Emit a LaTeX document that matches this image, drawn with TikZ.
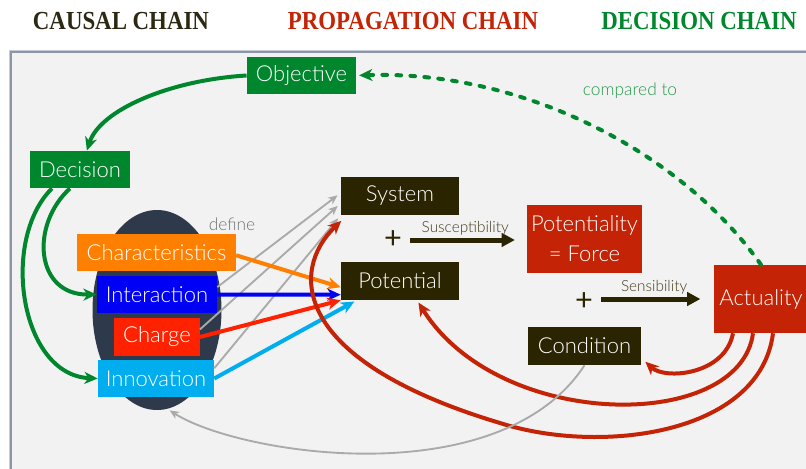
\documentclass[tikz,border=0pt]{standalone}
\usepackage{fontspec}
\setmainfont{Lato}
\newfontfamily\boxfont{Lato Light}
\newfontfamily\titlefont{Liberation Serif}[FakeStretch=0.88]
\usepackage{tikz}
\usetikzlibrary{arrows.meta}
\usetikzlibrary{shapes.geometric}

\definecolor{cgreen}{RGB}{0,135,45}
\definecolor{cred}{RGB}{196,35,6}
\definecolor{cdark}{RGB}{43,36,0}
\definecolor{ctitle}{RGB}{45,40,18}
\definecolor{corange}{RGB}{255,128,0}
\definecolor{cblue}{RGB}{0,0,245}
\definecolor{ccharge}{RGB}{255,34,0}
\definecolor{ccyan}{RGB}{0,174,239}
\definecolor{cgray}{RGB}{170,170,170}
\definecolor{cpanel}{RGB}{242,242,242}
\definecolor{cframe}{RGB}{140,150,168}
\definecolor{cellipse}{RGB}{46,58,76}

\tikzset{
  box/.style={text=white, inner sep=0pt, minimum height=28pt, font=\boxfont\fontsize{16.5}{18}\selectfont},
  titletext/.style={font=\titlefont\bfseries\fontsize{19.5}{22}\selectfont},
  thickarr/.style={line width=3pt, -{Stealth[length=10pt,width=9pt,inset=3pt]}},
  grayarr/.style={cgray, line width=1.4pt, -{Stealth[length=7pt,width=6pt,inset=2pt]}},
  plussign/.style={text=cdark, font=\fontsize{23}{23}\selectfont, inner sep=1pt},
  smalltext/.style={text=cdark!90, font=\boxfont\fontsize{11.5}{12}\selectfont, inner sep=1pt},
}

\begin{document}
\begin{tikzpicture}[x=0.75pt,y=0.75pt,yscale=-1]
\useasboundingbox (0,0) rectangle (806,468);

%Shape: Panel
\draw [draw=cframe!50, line width=3pt] (11,52) rectangle (830,490);
\draw [draw=cframe, fill=cpanel, line width=1pt] (11,52) rectangle (830,490);

% Text Node
\node [titletext, text=ctitle] (tcausal) at (121,21) {CAUSAL CHAIN};
% Text Node
\node [titletext, text=cred] (tprop) at (413,21) {PROPAGATION CHAIN};
% Text Node
\node [titletext, text=cgreen] (tdec) at (699,21) {DECISION CHAIN};

%Shape: Ellipse
\node [ellipse, fill=cellipse, inner sep=0pt, minimum width=96.75pt, minimum height=150pt] (grp) at (157,310) {};

% Boxes
\node [box, fill=cgreen, minimum width=82pt] (obj) at (301.5,75.5) {Objective};
\node [box, fill=cgreen, minimum width=75pt] (dec) at (80,169.5) {Decision};
\node [box, fill=corange, minimum width=119pt] (char) at (156.5,252.5) {Characteristics};
\node [box, fill=cblue, minimum width=90pt] (inter) at (157,294.5) {Interaction};
\node [box, fill=ccharge, minimum width=64pt] (charge) at (157,337) {Charge};
\node [box, fill=ccyan, minimum width=87pt] (innov) at (156,378.5) {Innovation};
\node [box, fill=cdark, minimum width=88.5pt, minimum height=28.5pt] (sys) at (400,196) {System};
\node [box, fill=cdark, minimum width=88.5pt, minimum height=28.5pt] (pot) at (400,281) {Potential};
\node [box, fill=cred, minimum width=86pt, minimum height=51pt, align=center, font=\boxfont\fontsize{16.5}{22.5}\selectfont] (force) at (584.5,239) {Potentiality\\= Force};
\node [box, fill=cred, minimum width=70.5pt, minimum height=51pt] (act) at (761,299) {Actuality};
\node [box, fill=cdark, minimum width=85pt, minimum height=28.5pt] (cond) at (584.5,346) {Condition};

% Text Node
\node [plussign] (plusa) at (393,240) {+};
\node [plussign] (plusb) at (584,302) {+};
\node [text=black!55, font=\boxfont\fontsize{13}{14}\selectfont] (define) at (232,224) {define};
\node [text=cgreen!85!white, font=\boxfont\fontsize{13}{14}\selectfont] (compared) at (630,91) {compared to};

% Decision chain
\draw [thickarr, cgreen] (obj.west) .. controls (170,80) and (100,110) .. (dec.70);
\draw [thickarr, cgreen] (dec.242) .. controls (30,225) and (35,295) .. (inter.west);
\draw [thickarr, cgreen] (dec.214) .. controls (0,240) and (20,375) .. (innov.west);
\draw [cgreen, line width=3pt, line cap=round, dash pattern=on 3.5pt off 7pt, -{Stealth[length=10pt,width=9pt,inset=3pt]}, shorten >=2pt] (act.north) .. controls (680,150) and (520,70) .. (obj.east);

% define
\draw [grayarr, shorten >=3pt] (inter.7) -- (sys.177);
\draw [grayarr, shorten >=3pt] (charge.10) -- (sys.187);
\draw [grayarr, shorten >=3pt] (innov.10) -- (sys.south west);

% Causal chain
\draw [thickarr, corange] (char.-2) -- (pot.186);
\draw [thickarr, cblue] (inter.east) -- (pot.193);
\draw [thickarr, ccharge] (charge.east) -- (pot.south west);
\draw [thickarr, ccyan, shorten >=2pt] (innov.east) -- (pot.204);

% Propagation chain
\draw [line width=3.75pt, cdark, -{Triangle[length=10pt,width=10pt]}, shorten <=5pt, shorten >=9pt] (plusa.east) -- (plusa.east -| force.west) node [midway, above=1pt, smalltext] {Susceptibility};
\draw [line width=3.75pt, cdark, -{Triangle[length=10pt,width=10pt]}, shorten <=5pt, shorten >=10pt] (plusb.east) ++(0,-3) -- (act.west |- 601,299) node [midway, above=1pt, smalltext] {Sensibility};

% Feedback
\draw [thickarr, cred, shorten >=4pt] ([xshift=-21pt]act.south) .. controls (725,375) and (665,380) .. (cond.-12);
\draw [thickarr, cred, shorten >=2pt] ([xshift=-6pt]act.south) .. controls (740,432) and (500,432) .. ([xshift=12.75pt]pot.south);
\draw [thickarr, cred, shorten >=6pt] ([xshift=9pt]act.south) .. controls (760,435) and (600,455) .. (500,423) .. controls (290,360) and (290,270) .. (sys.200);
\draw [grayarr, shorten >=2pt] (cond.south) .. controls (500,495) and (240,455) .. (grp.-84);

\end{tikzpicture}
\end{document}
